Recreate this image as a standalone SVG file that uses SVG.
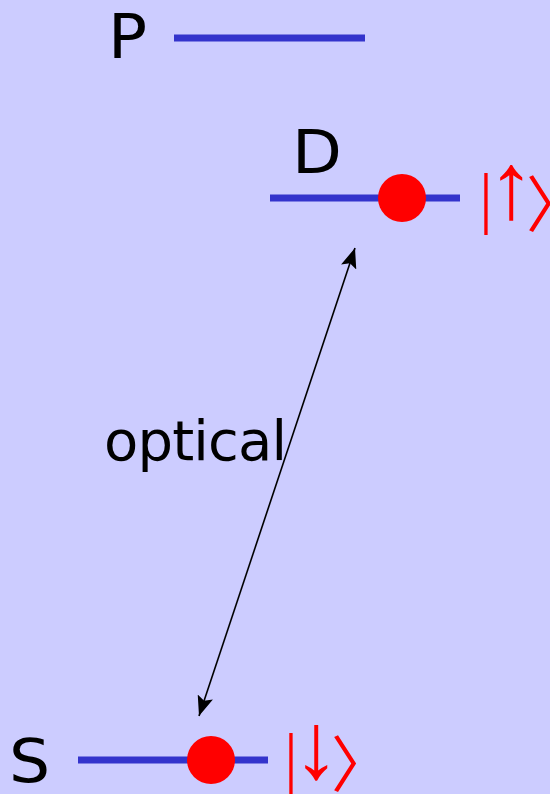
<svg xmlns="http://www.w3.org/2000/svg" width="550" height="794" viewBox="0 0 550 794">
<defs>
<style>
.lvl{stroke:#3333cc;stroke-width:7;fill:none}
.cap{font-family:"DejaVu Sans",Verdana,sans-serif;font-size:60px;fill:#000}
.lbl{font-family:"DejaVu Sans",Verdana,sans-serif;font-size:56px;fill:#000}
.ket{fill:#ff0000}
.bar{font-family:"Liberation Serif","Times New Roman",serif;font-size:67px}
.arw{font-family:"Liberation Serif","Times New Roman",serif;font-size:94px}
.ang{font-family:"Noto Sans CJK SC",sans-serif;font-size:61px;letter-spacing:-40px}
.dot{fill:#ff0000}
</style>
<marker id="ah2" viewBox="0 0 20 16" refX="20" refY="8" markerWidth="20" markerHeight="16" orient="auto-start-reverse" markerUnits="userSpaceOnUse">
<path d="M0,0 L20,8 L0,16 L4,8 z" fill="#000"/>
</marker>
</defs>
<rect width="550" height="794" fill="#ccccff"/>
<g id="level-P">
<line class="lvl" x1="174" y1="38" x2="365" y2="38"/>
<text class="cap" transform="translate(108,58) scale(1.08,1)">P</text>
</g>
<g id="level-D">
<line class="lvl" x1="270" y1="198" x2="460" y2="198"/>
<text class="cap" transform="translate(292,173) scale(1.08,1)">D</text>
<circle class="dot" cx="402" cy="198" r="24"/>
<text class="ket"><tspan class="bar" x="486" y="221" text-anchor="middle">|</tspan><tspan class="arw" x="511" y="218" text-anchor="middle">↑</tspan><tspan class="ang" x="526" y="227">〉</tspan></text>
</g>
<g id="level-S">
<line class="lvl" x1="78" y1="760" x2="268" y2="760"/>
<text class="cap" transform="translate(9,782) scale(1.08,1)">S</text>
<circle class="dot" cx="211" cy="760" r="24"/>
<text class="ket"><tspan class="bar" x="291" y="781" text-anchor="middle">|</tspan><tspan class="arw" x="316" y="778" text-anchor="middle">↓</tspan><tspan class="ang" x="331" y="787">〉</tspan></text>
</g>
<g id="connectors">
<line x1="355" y1="248" x2="199" y2="716" stroke="#000" stroke-width="1.6" marker-start="url(#ah2)" marker-end="url(#ah2)"/>
<text class="lbl" x="104" y="460" textLength="183" lengthAdjust="spacing">optical</text>
</g>
</svg>
